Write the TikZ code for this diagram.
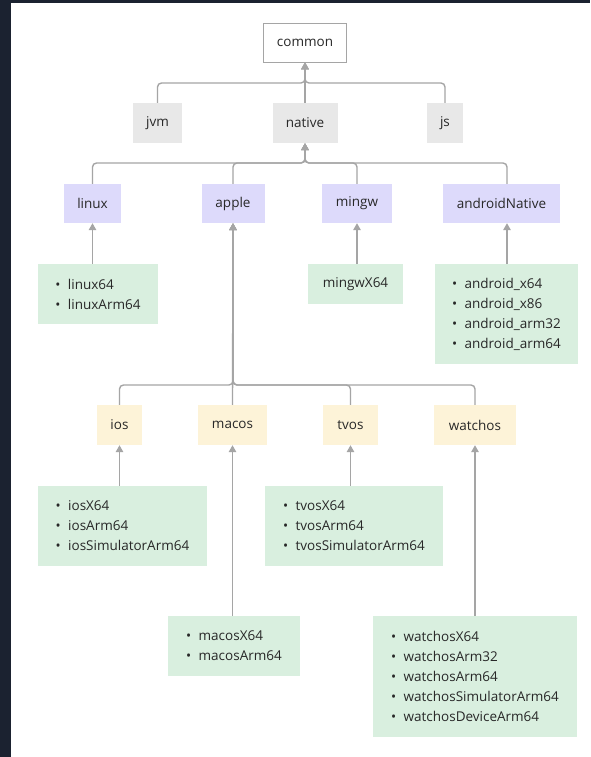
\documentclass[tikz,border=0pt]{standalone}
\usepackage{fontspec}
\setmainfont{Open Sans}
\usetikzlibrary{arrows.meta}
\definecolor{framedark}{RGB}{27,34,48}
\definecolor{linegray}{RGB}{165,165,165}
\definecolor{basegray}{RGB}{232,232,232}
\definecolor{nativepurple}{RGB}{221,218,251}
\definecolor{appleyellow}{RGB}{253,243,216}
\definecolor{targetgreen}{RGB}{217,239,223}
\definecolor{textdark}{RGB}{40,40,40}
\newcommand{\itm}[1]{\makebox[12.5pt][l]{\textbullet}#1}

\begin{document}
\begin{tikzpicture}[x=1pt,y=-1pt,
    srcset/.style={inner sep=0pt,font=\fontsize{13.5}{20}\selectfont,text=textdark},
    common/.style={srcset,draw=linegray,line width=0.8pt,fill=white},
    shared/.style={srcset,fill=basegray},
    family/.style={srcset,fill=nativepurple},
    applefam/.style={srcset,fill=appleyellow},
    leaves/.style={srcset,fill=targetgreen,align=left},
    conn/.style={linegray,line width=1.4pt,rounded corners=4pt,
      -{Triangle[length=7pt,width=7.5pt]}}]
    \fill[framedark] (0,0) rectangle (590,757);
    \fill[white] (11,3) rectangle (590,757);
    \useasboundingbox (0,0) rectangle (590,757);
    % top level
    \node[common,minimum width=83pt,minimum height=39pt] (common) at (305,42.5) {common};
    \node[shared,minimum width=49pt,minimum height=40pt] (jvm) at (157.5,123) {jvm};
    \node[shared,minimum width=65pt,minimum height=40pt] (native) at (305,123) {native};
    \node[shared,minimum width=36pt,minimum height=40pt] (js) at (445,123) {js};
    % native families
    \node[family,minimum width=57pt,minimum height=39pt] (linux) at (92.5,203.5) {linux};
    \node[family,minimum width=63pt,minimum height=39pt] (apple) at (233,203.5) {apple};
    \node[family,minimum width=70pt,minimum height=39pt] (mingw) at (357,203.5) {mingw};
    \node[family,minimum width=117pt,minimum height=39pt] (androidNative) at (501.5,203.5) {androidNative};
    % apple families
    \node[applefam,minimum width=45pt,minimum height=40pt] (ios) at (119.5,425) {ios};
    \node[applefam,minimum width=69pt,minimum height=40pt] (macos) at (232.5,425) {macos};
    \node[applefam,minimum width=55pt,minimum height=40pt] (tvos) at (350.5,425) {tvos};
    \node[applefam,minimum width=82pt,minimum height=40pt] (watchos) at (475,425) {watchos};
    % targets
    \node[leaves,minimum width=120pt,minimum height=60pt] (linuxT) at (98,294)
      {\itm{linux64}\\\itm{linuxArm64}};
    \node[leaves,minimum width=95pt,minimum height=40pt] (mingwT) at (355.5,284) {mingwX64};
    \node[leaves,minimum width=143pt,minimum height=100pt] (androidT) at (506.5,314)
      {\itm{android\_x64}\\\itm{android\_x86}\\\itm{android\_arm32}\\\itm{android\_arm64}};
    \node[leaves,minimum width=169pt,minimum height=80pt] (iosT) at (122.5,526)
      {\itm{iosX64}\\\itm{iosArm64}\\\itm{iosSimulatorArm64}};
    \node[leaves,minimum width=178pt,minimum height=80pt] (tvosT) at (354,526)
      {\itm{tvosX64}\\\itm{tvosArm64}\\\itm{tvosSimulatorArm64}};
    \node[leaves,minimum width=132pt,minimum height=60pt] (macosT) at (234,646)
      {\itm{macosX64}\\\itm{macosArm64}};
    \node[leaves,minimum width=204pt,minimum height=121pt] (watchosT) at (475,676.5)
      {\itm{watchosX64}\\\itm{watchosArm32}\\\itm{watchosArm64}\\\itm{watchosSimulatorArm64}\\\itm{watchosDeviceArm64}};
    % buses
    \coordinate (busA) at (0,83);
    \coordinate (busB) at (0,163);
    \coordinate (busC) at (0,385);
    % connectors
    \foreach \n in {jvm,js}
      \draw[conn] (\n.north) -- (\n.north |- busA) -| (common.south);
    \draw[conn] (native.north) -- (common.south);
    \foreach \n in {linux,mingw}
      \draw[conn] (\n.north) -- (\n.north |- busB) -| (native.south);
    \draw[conn] ([xshift=5.5pt]androidNative.north) -- ([xshift=5.5pt]androidNative.north |- busB) -| (native.south);
    \draw[conn] (apple.north) -- (apple.north |- busB) -| (native.south);
    \foreach \n in {ios,tvos,watchos}
      \draw[conn] (\n.north) -- (\n.north |- busC) -| (apple.south);
    \draw[conn] (macos.north) -- (apple.south);
    \draw[conn] (linux.south |- linuxT.north) -- (linux.south);
    \draw[conn] (mingw.south |- mingwT.north) -- (mingw.south);
    \draw[conn] ([xshift=5.5pt]androidNative.south |- androidT.north) -- ([xshift=5.5pt]androidNative.south);
    \draw[conn] (ios.south |- iosT.north) -- (ios.south);
    \draw[conn] (tvos.south |- tvosT.north) -- (tvos.south);
    \draw[conn] (macosT.north -| macos.south) -- (macos.south);
    \draw[conn] (watchos.south |- watchosT.north) -- (watchos.south);
\end{tikzpicture}
\end{document}
